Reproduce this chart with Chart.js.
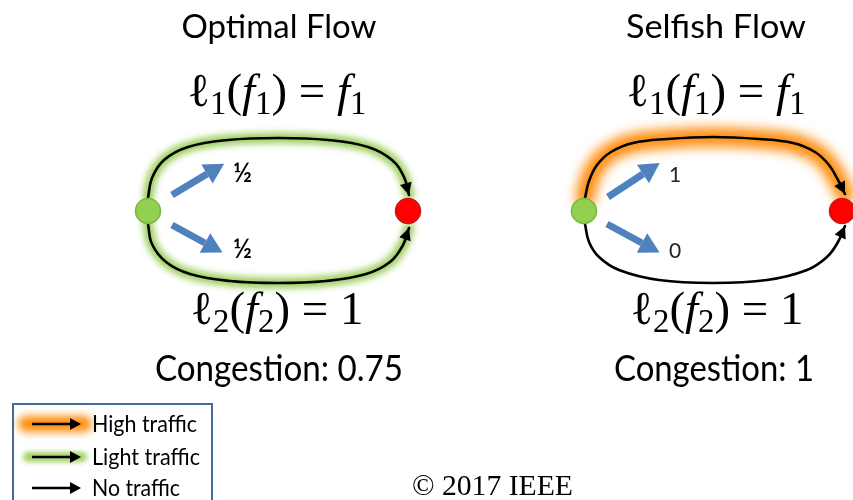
<!DOCTYPE html>
<html lang="en">
<head>
<meta charset="UTF-8">
<title>Optimal Flow vs Selfish Flow</title>
<script src="https://cdn.jsdelivr.net/npm/chart.js@4.4.1/dist/chart.umd.min.js"></script>
<style>
  html, body { margin: 0; padding: 0; background: #fff; }
  #wrap { width: 853px; height: 500px; }
</style>
</head>
<body>
<div id="wrap"><canvas id="myChart" width="853" height="500"></canvas></div>
<script>
// ---- data (figure pixel units, y grows downwards) ----
var titles = ['Optimal Flow', 'Selfish Flow'];
var congestion = ['Congestion: 0.75', 'Congestion: 1'];
var flowLabels = ['\u00bd', '\u00bd', '1', '0'];
var legendLabels = ['High traffic', 'Light traffic', 'No traffic'];
var copyright = '\u00a9 2017 IEEE';

var sourceNodes = [[148, 211], [584, 211]];
var sinkNodes = [[408, 211], [842, 211]];

// routes
var leftUpper = [[148,198],[152,178],[164,160],[188,147],[228,140],[278,138],[328,140],[368,147],[392,160],[404,177],[409,195]];
var leftLower = [[148,224],[152,244],[166,262],[190,274],[230,281],[278,283],[326,281],[366,274],[390,262],[403,245],[409,228]];
var rightUpper = [[585,198],[589,181],[597,165],[611,152],[633,143],[667,139],[713,137],[759,139],[793,143],[815,152],[829,165],[838,180],[845,194]];
var rightLower = [[585,224],[589,242],[599,257],[619,270],[659,280],[713,283],[767,280],[807,270],[827,257],[838,242],[845,226]];

var blueArrows = [
  [[172,195],[207,174]],
  [[172,225],[205,243]],
  [[608,197],[643,174]],
  [[607,224],[642,243]]
];

var legendArrows = [[[32,424],[78,424]], [[32,457],[78,457]], [[32,488],[78,488]]];

// ---- layout for text ----
var titlePos = [{x:279, y:38, w:195, cap:23}, {x:716, y:38, w:180, cap:23}];
var congPos = [{x:279, y:381, w:248, cap:27}, {x:714, y:381, w:200, cap:27}];
var flowPos = [{x:233, y:182}, {x:233, y:258}, {x:669, y:182}, {x:669, y:258}];
var legendPos = [{x:92, y:432, w:105, cap:16}, {x:92, y:465, w:108, cap:16}, {x:92, y:496, w:88, cap:16}];
var mathPos = [
  {x:277, y:106, f:1}, {x:716, y:106, f:1},
  {x:277, y:324, f:2}, {x:717, y:324, f:2}
];
var mathWidthTop = 179;
var legendBox = [[13, 404], [212, 515]];

var SANS = 'Lato, "Open Sans", sans-serif';
var SERIF = '"Liberation Serif", "DejaVu Serif", serif';
var SANS_CAP = 0.72;

function pts(a) { return a.map(function (p) { return {x: p[0], y: p[1]}; }); }

function line(points, color, width, extra) {
  var d = {
    data: pts(points), showLine: true, pointRadius: 0, fill: false,
    borderColor: color, borderWidth: width, tension: 0.4, clip: false,
    borderCapStyle: 'round', borderJoinStyle: 'round', order: 3
  };
  for (var k in extra) d[k] = extra[k];
  return d;
}

var datasets = [];
var GREEN_GLOW = 'rgba(155,205,90,0.95)';
var ORANGE_GLOW = 'rgba(255,140,10,1)';

// glows
datasets.push(line(leftUpper, GREEN_GLOW, 11, {blur: 3, order: 6}));
datasets.push(line(leftLower, GREEN_GLOW, 11, {blur: 3, order: 6}));
datasets.push(line(rightUpper, ORANGE_GLOW, 19, {blur: 6, order: 6}));
datasets.push(line([[26,424],[84,424]], ORANGE_GLOW, 16, {blur: 4.5, order: 6}));
datasets.push(line([[28,457],[82,457]], GREEN_GLOW, 10, {blur: 2.5, order: 6}));

// black routes
[leftUpper, leftLower, rightUpper, rightLower].forEach(function (r) {
  datasets.push(line(r, '#000', 2.6, {head: {len: 12, half: 6, over: 0}}));
});
legendArrows.forEach(function (r) {
  datasets.push(line(r, '#000', 2.6, {tension: 0, borderCapStyle: 'butt', head: {len: 11, half: 6, over: 3}}));
});

// blue split arrows
blueArrows.forEach(function (r) {
  datasets.push(line(r, '#4f81bd', 7, {tension: 0, borderCapStyle: 'butt', order: 2, head: {len: 20, half: 11, over: 20}}));
});

// nodes
datasets.push({data: pts(sourceNodes), pointRadius: 12.5, pointBackgroundColor: '#92d050',
  pointBorderColor: '#7db541', pointBorderWidth: 1.5, clip: false, order: 1});
datasets.push({data: pts(sinkNodes), pointRadius: 12.5, pointBackgroundColor: '#ff0000',
  pointBorderColor: '#c81818', pointBorderWidth: 1.5, clip: false, order: 1});

function drawHead(chart, idx, ds) {
  var meta = chart.getDatasetMeta(idx);
  var n = meta.data.length;
  var p = meta.data[n - 1], q = meta.data[n - 2];
  var dx = p.x - q.x, dy = p.y - q.y, L = Math.sqrt(dx * dx + dy * dy);
  dx /= L; dy /= L;
  var h = ds.head;
  var tx = p.x + dx * h.over, ty = p.y + dy * h.over;
  var bx = tx - dx * h.len, by = ty - dy * h.len;
  var c = chart.ctx;
  c.save();
  c.fillStyle = ds.borderColor;
  c.beginPath();
  c.moveTo(tx, ty);
  c.lineTo(bx - dy * h.half, by + dx * h.half);
  c.lineTo(bx + dy * h.half, by - dx * h.half);
  c.closePath();
  c.fill();
  c.restore();
}

var figurePlugin = {
  id: 'figure',
  beforeDatasetDraw: function (chart, args) {
    var ds = chart.data.datasets[args.index];
    if (ds.blur) { chart.ctx.save(); chart.ctx.filter = 'blur(' + ds.blur + 'px)'; }
  },
  afterDatasetDraw: function (chart, args) {
    var ds = chart.data.datasets[args.index];
    if (ds.blur) chart.ctx.restore();
    if (ds.head) drawHead(chart, args.index, ds);
  },
  afterDraw: function (chart) {
    var c = chart.ctx, sx = chart.scales.x, sy = chart.scales.y;
    function X(v) { return sx.getPixelForValue(v); }
    function Y(v) { return sy.getPixelForValue(v); }
    function fitText(t, fam, w) {
      c.font = '100px ' + fam;
      return 100 * w / c.measureText(t).width;
    }
    // sans text: size from cap height, squeezed/stretched to the target width
    function sansText(t, p) {
      var size = p.cap / SANS_CAP;
      c.font = size + 'px ' + SANS;
      var w = c.measureText(t).width;
      c.save();
      c.translate(X(p.x), Y(p.y));
      c.scale(p.w / w, 1);
      c.fillText(t, 0, 0);
      c.restore();
    }
    c.save();
    c.fillStyle = '#000';
    c.textBaseline = 'alphabetic';

    // titles + congestion
    c.textAlign = 'center';
    titles.forEach(function (t, i) { sansText(t, titlePos[i]); });
    congestion.forEach(function (t, i) { sansText(t, congPos[i]); });

    // flow labels
    c.textAlign = 'left';
    flowLabels.forEach(function (t, i) {
      var p = flowPos[i];
      c.font = (i < 2 ? '600 26px ' : '21px ') + SANS;
      c.fillStyle = i < 2 ? '#000' : '#222';
      c.fillText(t, X(p.x), Y(p.y));
    });
    c.fillStyle = '#000';

    // math formulas
    function segsFor(f) {
      var s = [{t: '\u2113'}, {t: String(f), sub: 1}, {t: '('}, {t: 'f', it: 1},
        {t: String(f), sub: 1}, {t: ')'}, {t: ' = '}];
      if (f === 1) s.push({t: 'f', it: 1}, {t: '1', sub: 1});
      else s.push({t: '1'});
      return s;
    }
    function setF(s, size) {
      c.font = (s.it ? 'italic ' : '') + (s.sub ? size * 0.7 : size) + 'px ' + SERIF;
    }
    function widthAt(segs, size) {
      var w = 0;
      segs.forEach(function (s) { setF(s, size); w += c.measureText(s.t).width; });
      return w;
    }
    var mSize = 32 * mathWidthTop / widthAt(segsFor(1), 32);
    mathPos.forEach(function (p) {
      var segs = segsFor(p.f);
      var xx = X(p.x) - widthAt(segs, mSize) / 2;
      segs.forEach(function (s) {
        setF(s, mSize);
        c.fillText(s.t, xx, Y(p.y) + (s.sub ? mSize * 0.17 : 0));
        xx += c.measureText(s.t).width;
      });
    });

    // legend
    c.strokeStyle = '#44699b';
    c.lineWidth = 2;
    c.strokeRect(X(legendBox[0][0]), Y(legendBox[0][1]),
      X(legendBox[1][0]) - X(legendBox[0][0]), Y(legendBox[1][1]) - Y(legendBox[0][1]));
    legendLabels.forEach(function (t, i) { sansText(t, legendPos[i]); });

    // copyright
    c.font = fitText(copyright, SERIF, 161) + 'px ' + SERIF;
    c.fillText(copyright, X(412), Y(495));
    c.restore();
  }
};

var ctx = document.getElementById('myChart').getContext('2d');
var myChart = new Chart(ctx, {
  type: 'scatter',
  data: {datasets: datasets},
  options: {
    responsive: false,
    animation: false,
    events: [],
    layout: {padding: 0, autoPadding: false},
    plugins: {legend: {display: false}, tooltip: {enabled: false}},
    scales: {
      x: {type: 'linear', min: 0, max: 853, display: false},
      y: {type: 'linear', min: 0, max: 500, reverse: true, display: false}
    }
  },
  plugins: [figurePlugin]
});
</script>
</body>
</html>
